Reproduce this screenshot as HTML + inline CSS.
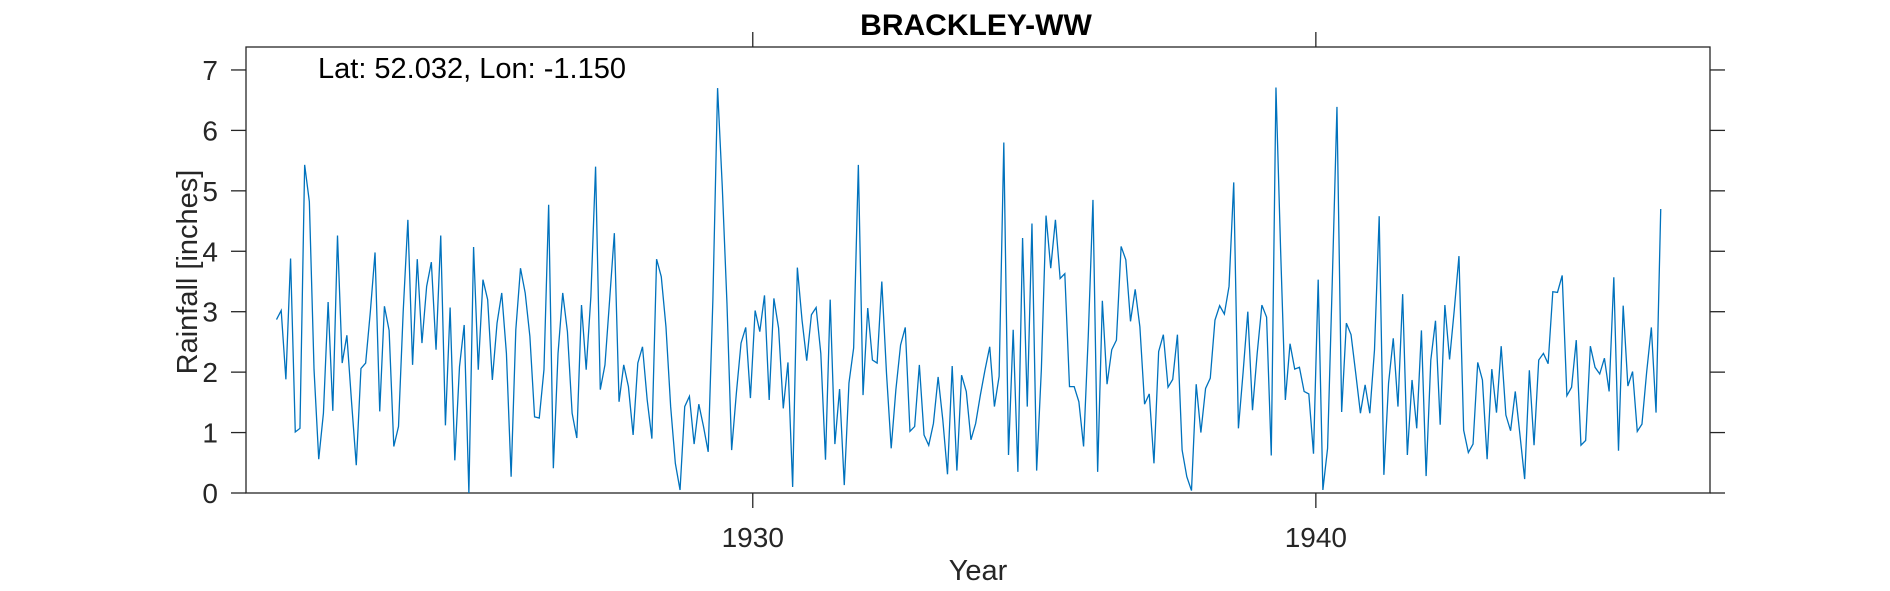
<!DOCTYPE html>
<html><head><meta charset="utf-8"><style>
body{margin:0;background:#fff;}
svg{display:block;font-family:"Liberation Sans",Arial,sans-serif;}
</style></head><body>
<svg id="chart" width="1890" height="591" viewBox="0 0 1890 591">
<text x="976" y="35" text-anchor="middle" font-size="30" font-weight="bold" fill="#000">BRACKLEY-WW</text>
<g id="axes"></g>
<g id="series"></g>
<text x="318" y="78" font-size="29" fill="#000">Lat: 52.032, Lon: -1.150</text>
<text x="978" y="580" text-anchor="middle" font-size="29" fill="#262626">Year</text>
<text transform="translate(197,272) rotate(-90)" text-anchor="middle" font-size="29" fill="#262626">Rainfall [inches]</text>
</svg>
<script>
const startYear = 1921;
const startMonth = 7;
const rainfall = [2.87,3.02,1.88,3.88,1.01,1.07,5.43,4.82,2.04,0.56,1.32,3.16,1.36,4.26,2.15,2.61,1.5,0.46,2.06,2.15,3.0,3.98,1.35,3.09,2.69,0.77,1.1,3.0,4.52,2.12,3.87,2.48,3.42,3.82,2.37,4.26,1.12,3.07,0.54,2.09,2.78,0,4.07,2.04,3.53,3.2,1.87,2.81,3.31,2.31,0.27,2.7,3.72,3.31,2.59,1.26,1.24,2.04,4.77,0.41,2.31,3.31,2.67,1.32,0.91,3.11,2.04,3.25,5.40,1.71,2.12,3.2,4.3,1.51,
2.12,1.76,0.96,2.15,2.42,1.54,0.9,3.87,3.58,2.75,1.43,0.49,0.05,1.43,1.6,0.81,1.47,1.1,0.68,3.2,6.70,5.07,3.14,0.71,1.65,2.48,2.74,1.57,3.02,2.67,3.27,1.54,3.22,2.73,1.40,2.16,0.1,3.73,2.86,2.19,2.95,3.07,2.31,0.55,3.2,0.81,1.72,0.13,1.82,2.4,5.43,1.62,3.06,2.2,2.15,3.5,1.98,0.74,1.71,2.45,2.74,1.02,1.1,2.12,0.96,0.79,1.15,1.92,1.21,0.31,2.1,0.37,1.95,1.68,0.88,1.15,1.62,2.04,2.42,1.43,1.93,5.8,
0.63,2.7,0.35,4.22,1.43,4.46,0.37,2.04,4.59,3.72,4.52,3.55,3.63,1.76,1.76,1.51,0.77,2.6,4.85,0.35,3.18,1.8,2.37,2.53,4.08,3.86,2.84,3.37,2.75,1.47,1.64,0.49,2.34,2.62,1.75,1.88,2.62,0.71,0.27,0.04,1.8,1.0,1.73,1.9,2.86,3.1,2.96,3.42,5.14,1.07,2.0,3.0,1.37,2.31,3.11,2.91,0.62,6.71,4.0,1.54,2.47,2.05,2.08,1.68,1.64,0.65,3.53,0.05,0.74,3.5,6.39,1.34,2.81,2.62,1.98,1.32,1.79,1.32,2.37,4.58,0.3,1.82,2.56,1.43,3.29,0.63,1.87,1.07,
2.69,0.28,2.2,2.85,1.13,3.11,2.21,3.03,3.92,1.04,0.67,0.81,2.16,1.87,0.56,2.05,1.33,2.43,1.29,1.03,1.68,0.96,0.23,2.03,0.79,2.2,2.31,2.14,3.33,3.32,3.6,1.61,1.75,2.53,0.79,0.87,2.43,2.08,1.97,2.23,1.68,3.57,0.7,3.1,1.77,2.01,1.02,1.14,2.0,2.74,1.33,4.7];
const yTicks = [0,1,2,3,4,5,6,7];
const xTicks = [1930,1940];
const xDomain = [1921,1947];
const yDomain = [0,7.38];

const L=246,R=1710,T=47,B=493;
const NS="http://www.w3.org/2000/svg";
function sx(v){return L+(v-xDomain[0])/(xDomain[1]-xDomain[0])*(R-L);}
function sy(v){return B-(v-yDomain[0])/(yDomain[1]-yDomain[0])*(B-T);}
function mk(tag,attrs,parent){const e=document.createElementNS(NS,tag);for(const k in attrs)e.setAttribute(k,attrs[k]);parent.appendChild(e);return e;}
const axes=document.getElementById('axes');
const frame=mk('rect',{x:L,y:T,width:R-L,height:B-T,fill:'none',stroke:'#262626','stroke-width':1.3},axes);


yTicks.forEach(v=>{
  const y=sy(v);
  const t1=mk('line',{x1:L-15,x2:L,y1:y,y2:y,stroke:'#262626','stroke-width':1.3},axes);
  
  
  const t2=mk('line',{x1:R,x2:R+15,y1:y,y2:y,stroke:'#262626','stroke-width':1.3},axes);
  
  
  const lb=mk('text',{x:L-28,y:y+10,'text-anchor':'end','font-size':28,fill:'#262626'},axes);
  lb.textContent=v;
  
  
});
xTicks.forEach(v=>{
  const x=sx(v);
  const t1=mk('line',{x1:x,x2:x,y1:B,y2:B+15,stroke:'#262626','stroke-width':1.3},axes);
  
  
  const t2=mk('line',{x1:x,x2:x,y1:T-15,y2:T,stroke:'#262626','stroke-width':1.3},axes);
  
  
  const lb=mk('text',{x:x,y:B+54,'text-anchor':'middle','font-size':28,fill:'#262626'},axes);
  lb.textContent=v;
  
  
});
const pts=rainfall.map((v,i)=>{const t=startYear+(startMonth-0.5+i)/12;return sx(t).toFixed(2)+','+sy(v).toFixed(2);}).join(' ');
const line=mk('polyline',{points:pts,fill:'none',stroke:'#0072BD','stroke-width':1.3,'stroke-linejoin':'miter'},document.getElementById('series'));


</script>
</body></html>
